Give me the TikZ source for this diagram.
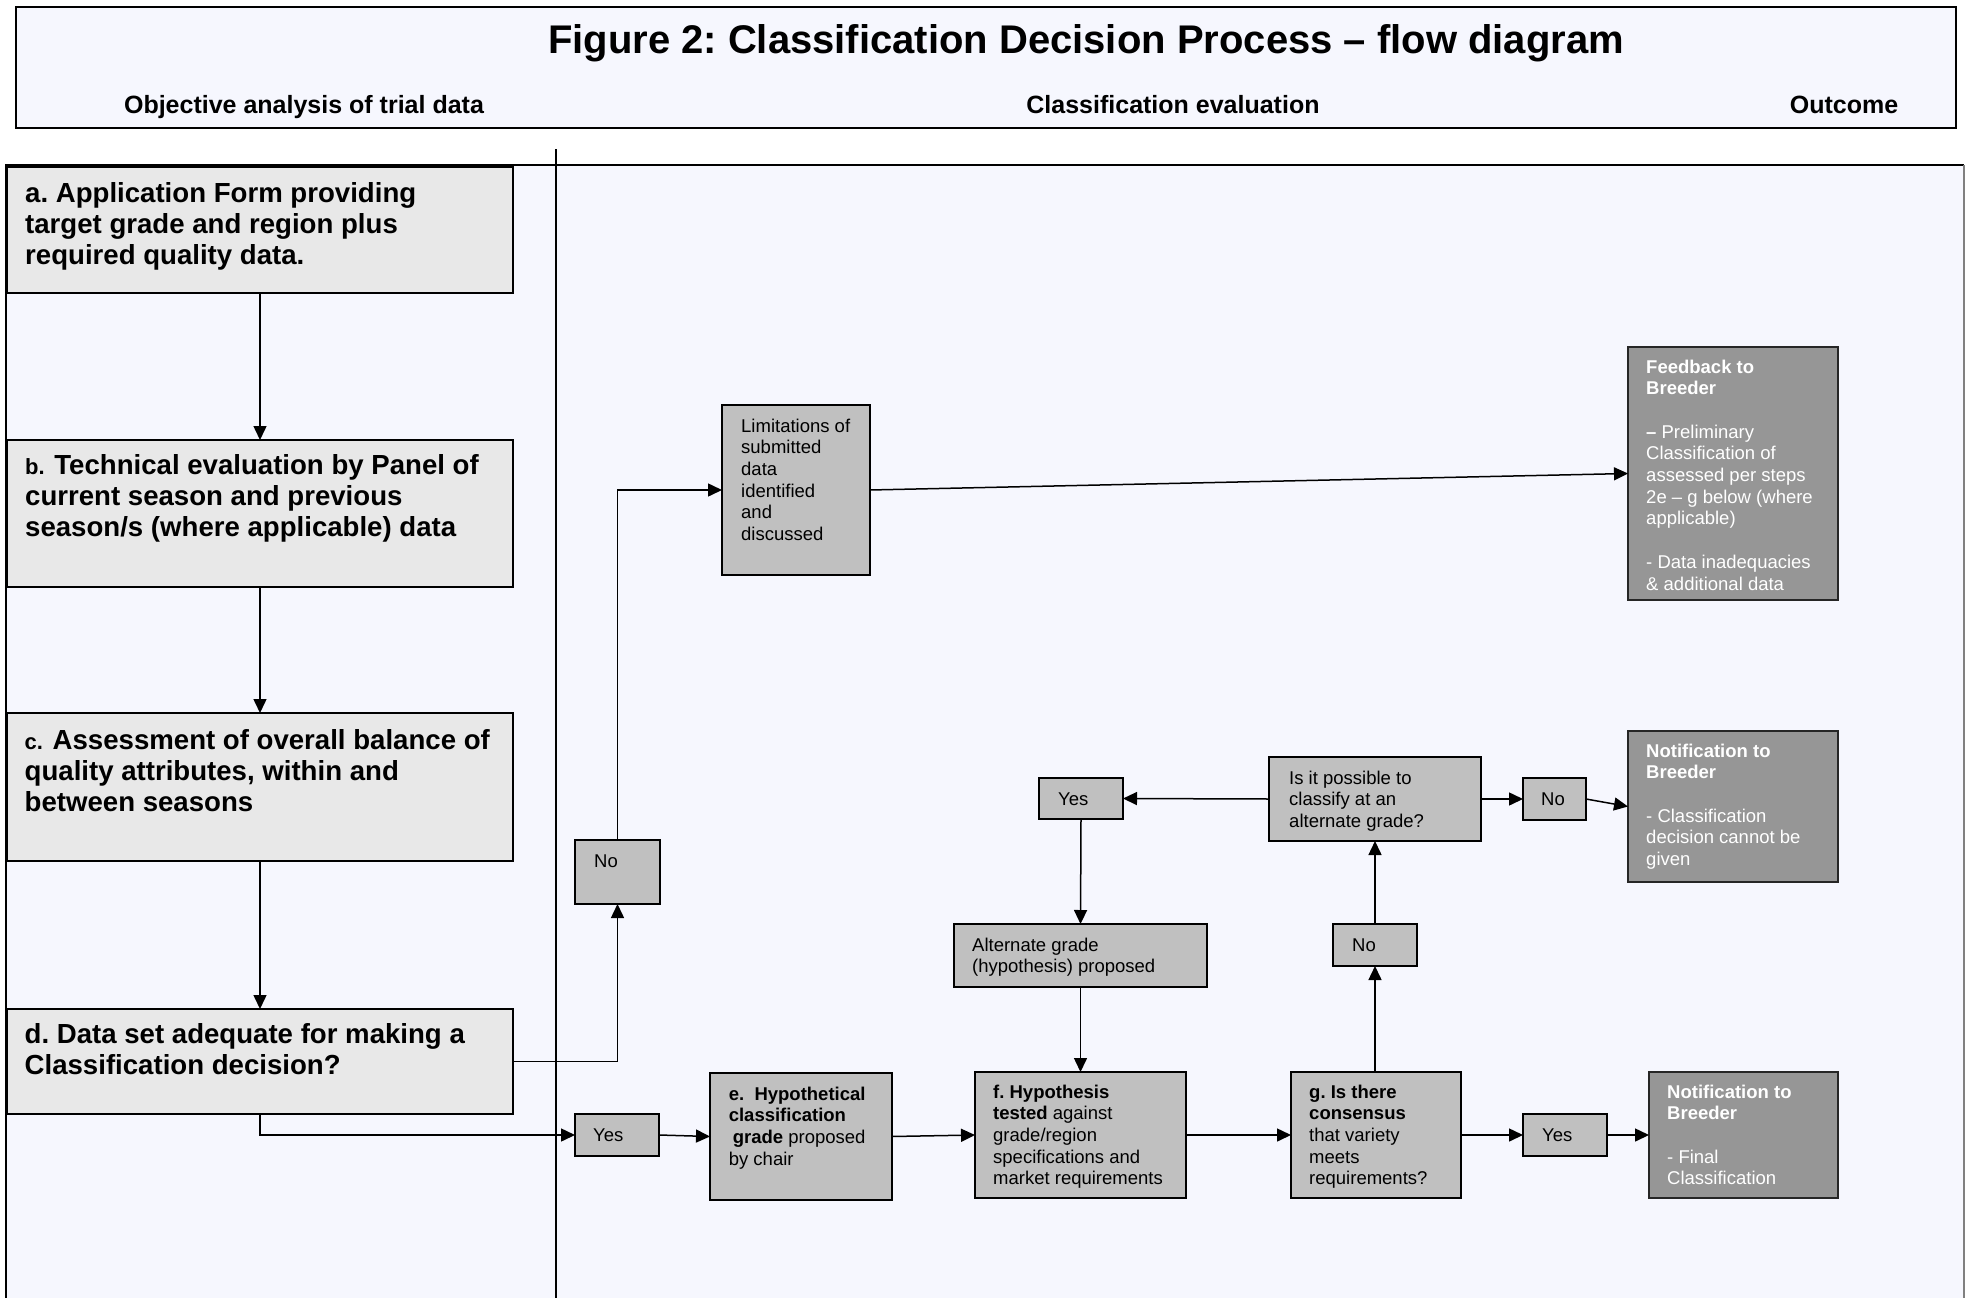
\documentclass[tikz,border=0pt]{standalone}
\usepackage{fontspec}
\setmainfont{Liberation Sans}
\usetikzlibrary{arrows.meta}
\definecolor{panel}{HTML}{F6F7FE}
\definecolor{lgrey}{HTML}{E8E8E8}
\definecolor{mgrey}{HTML}{C0C0C0}
\definecolor{dgrey}{HTML}{969696}
\newcommand{\ptx}[2]{\parbox[t]{#1}{\raggedright #2}}
\tikzset{
 lbox/.style={draw=black, line width=2pt, fill=lgrey, inner sep=0pt, outer sep=0pt, anchor=north west},
 mbox/.style={draw=black, line width=2pt, fill=mgrey, inner sep=0pt, outer sep=0pt, anchor=north west},
 obox/.style={draw=black!85, line width=2pt, fill=dgrey, inner sep=0pt, outer sep=0pt, anchor=north west},
 ltxt/.style={inner sep=0pt, anchor=base west, font=\fontsize{27.6}{31}\selectfont\bfseries},
 mtxt/.style={inner sep=0pt, anchor=base west, font=\fontsize{18.5}{21.7}\selectfont},
 otxt/.style={mtxt, text=white},
 arr/.style={line width=1.5pt, -{Triangle[length=14pt,width=13pt]}},
 hdrtxt/.style={anchor=base, inner sep=0pt, font=\fontsize{25}{30}\selectfont\bfseries},
}
\begin{document}
\frenchspacing
\begin{tikzpicture}[x=1pt,y=-1pt]
\useasboundingbox (0,0) rectangle (1965,1298);
% header
\node[draw=black, line width=2pt, fill=panel, inner sep=0pt, anchor=north west, minimum width=1940pt, minimum height=121pt] (hdr) at (15,6) {};
\node[anchor=base, inner sep=0pt, font=\fontsize{40}{48}\selectfont\bfseries] (title) at (1086,54) {Figure 2: Classification Decision Process – flow diagram};
\node[hdrtxt] (h1) at (304,113) {Objective analysis of trial data};
\node[hdrtxt] (h2) at (1173,113) {Classification evaluation};
\node[hdrtxt] (h3) at (1844,113) {Outcome};
% panel
\fill[panel] (6,165) rectangle (1964,1300);
\draw[line width=2pt] (6,1300) -- (6,165) -- (1964,165);
\draw[line width=2pt, gray] (1964,165) -- (1964,1300);
\draw[line width=1.5pt] (556,149) -- (556,1300);
% left boxes
\node[lbox, minimum width=506pt, minimum height=126pt] (a) at (7,167) {};
\node[ltxt] (at) at (25,202) {\ptx{485pt}{a. Application Form providing\\ target grade and region plus\\ required quality data.}};
\node[lbox, minimum width=506pt, minimum height=147pt] (b) at (7,440) {};
\node[ltxt] (bt) at (25,474) {\ptx{485pt}{{\fontsize{22}{31}\selectfont b.}\hspace{2pt} Technical evaluation by Panel of\\ current season and previous\\ season/s (where applicable) data}};
\node[lbox, minimum width=506pt, minimum height=148pt] (c) at (7,713) {};
\node[ltxt] (ct) at (24.5,749) {\ptx{485pt}{{\fontsize{22}{31}\selectfont c.}\hspace{2pt} Assessment of overall balance of\\ quality attributes, within and\\ between seasons}};
\node[lbox, minimum width=506pt, minimum height=105pt] (d) at (7,1009) {};
\node[ltxt] (dt) at (24.5,1043) {\ptx{485pt}{d. Data set adequate for making a\\ Classification decision?}};
% middle boxes
\node[mbox, minimum width=85pt, minimum height=64pt] (noL) at (575,840) {};
\node[mtxt] (noLt) at (594,867) {No};
\node[mbox, minimum width=84pt, minimum height=42pt] (yesL) at (575,1114) {};
\node[mtxt] (yesLt) at (593,1141) {Yes};
\node[mbox, minimum width=148pt, minimum height=170pt] (lim) at (722,405) {};
\node[mtxt] (limt) at (741,432) {\ptx{125pt}{Limitations of\\ submitted\\ data\\ identified\\ and\\ discussed}};
\node[mbox, minimum width=253pt, minimum height=63pt] (alt) at (954,924) {};
\node[mtxt] (altt) at (972,951) {\ptx{230pt}{Alternate grade\\ (hypothesis) proposed}};
\node[mbox, minimum width=84pt, minimum height=41pt] (yesU) at (1039,778) {};
\node[mtxt] (yesUt) at (1058,805) {Yes};
\node[mbox, minimum width=212pt, minimum height=84pt] (isit) at (1269,757) {};
\node[mtxt] (isitt) at (1289,784) {\ptx{190pt}{Is it possible to\\ classify at an\\ alternate grade?}};
\node[mbox, minimum width=63pt, minimum height=42pt] (noR) at (1523,778) {};
\node[mtxt] (noRt) at (1541,805) {No};
\node[mbox, minimum width=84pt, minimum height=42pt] (noM) at (1333,924) {};
\node[mtxt] (noMt) at (1352,951) {No};
\node[mbox, minimum width=182pt, minimum height=127pt] (e) at (710,1073) {};
\node[mtxt] (et) at (728.6,1100) {\ptx{160pt}{\textbf{e.~~Hypothetical}\\ \textbf{classification}\\ \hspace*{4pt}\textbf{grade} proposed\\ by chair}};
\node[mbox, minimum width=211pt, minimum height=126pt] (f) at (975,1072) {};
\node[mtxt] (ft) at (993,1098) {\ptx{190pt}{\textbf{f. Hypothesis}\\ \textbf{tested} against\\ grade/region\\ specifications and\\ market requirements}};
\node[mbox, minimum width=170pt, minimum height=126pt] (g) at (1291,1072) {};
\node[mtxt] (gt) at (1309,1098) {\ptx{150pt}{\textbf{g. Is there}\\ \textbf{consensus}\\ that variety\\ meets\\ requirements?}};
\node[mbox, minimum width=84pt, minimum height=42pt] (yesR) at (1523,1114) {};
\node[mtxt] (yesRt) at (1542,1141) {Yes};
% outcome boxes
\node[obox, minimum width=210pt, minimum height=253pt] (fb) at (1628,347) {};
\node[otxt] (fbt) at (1646,373) {\ptx{190pt}{\textbf{Feedback to}\\ \textbf{Breeder}\\[21.7pt] \textbf{–} Preliminary\\ Classification of\\ assessed per steps\\ 2e – g below (where\\ applicable)\\[21.7pt] - Data inadequacies\\ \& additional data}};
\node[obox, minimum width=210pt, minimum height=151pt] (n1) at (1628,731) {};
\node[otxt] (n1t) at (1646,757) {\ptx{190pt}{\textbf{Notification to}\\ \textbf{Breeder}\\[21.7pt] - Classification\\ decision cannot be\\ given}};
\node[obox, minimum width=189pt, minimum height=126pt] (n2) at (1649,1072) {};
\node[otxt] (n2t) at (1667,1098) {\ptx{170pt}{\textbf{Notification to}\\ \textbf{Breeder}\\[21.7pt] - Final\\ Classification}};
% connectors
\draw[arr] (a.south) -- (b.north);
\draw[arr] (b.south) -- (c.north);
\draw[arr] (c.south) -- (d.north);
\draw[arr] (d.east) -| (noL.south);
\draw[arr] (noL.north) |- (lim.west);
\draw[arr] (lim.east) -- (fb.west);
\draw[arr] (d.south) |- (yesL.west);
\draw[arr] (yesL.east) -- (e.west);
\draw[arr] (e.east) -- (f.west);
\draw[arr] (f.east) -- (g.west);
\draw[arr] (g.east) -- (yesR.west);
\draw[arr] (yesR.east) -- (n2.west);
\draw[arr] (noM.south |- g.north) -- (noM.south);
\draw[arr] (noM.north) -- (isit.south);
\draw[arr] (isit.west) -- (yesU.east);
\draw[arr] (isit.east) -- (noR.west);
\draw[arr] (noR.east) -- (n1.west);
\draw[arr] (yesU.south) -- (alt.north);
\draw[arr] (alt.south) -- (f.north);
\end{tikzpicture}
\end{document}
